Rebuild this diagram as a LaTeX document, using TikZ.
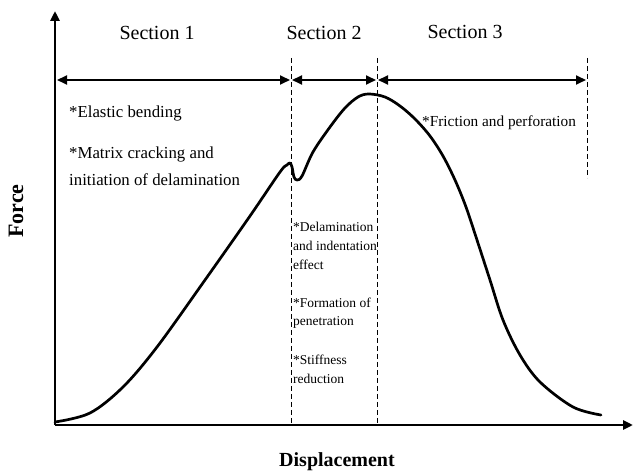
\documentclass[tikz,border=0pt]{standalone}
\usepackage{fontspec}
\setmainfont{Liberation Serif}
\usetikzlibrary{arrows.meta}
\tikzset{
  axisline/.style={line width=2.8pt, -{Triangle[length=10pt,width=9pt]}},
  secarrow/.style={line width=1.8pt, {Triangle[length=10pt,width=9pt]}-{Triangle[length=10pt,width=9pt]}},
  guide/.style={line width=1pt, dash pattern=on 5pt off 3pt},
  curveline/.style={line width=2.7pt, line join=round, line cap=round},
  sectxt/.style={font=\fontsize{20}{23}\selectfont, inner sep=0pt},
  lefttxt/.style={font=\fontsize{16.8}{20}\selectfont, anchor=west, inner sep=0pt},
  midtxt/.style={font=\fontsize{13.5}{16}\selectfont, anchor=west, inner sep=0pt},
  axtxt/.style={font=\fontsize{20}{23}\selectfont\bfseries, inner sep=0pt}
}
\begin{document}
\begin{tikzpicture}[x=1pt,y=-1pt]
\useasboundingbox (0,0) rectangle (633,476);
% axes
\coordinate (O) at (55,425);
\coordinate (Ytop) at (55,11);
\coordinate (Xend) at (633,425);
\draw[axisline] (O) -- (Ytop);
\draw[axisline] (O) -- (Xend);
% dashed guides
\coordinate (d1t) at (291,58); \coordinate (d1b) at (291,425);
\coordinate (d2t) at (377,58); \coordinate (d2b) at (377,425);
\coordinate (d3t) at (587,58); \coordinate (d3b) at (587,178);
\draw[guide] (d1t) -- (d1b);
\draw[guide] (d2t) -- (d2b);
\draw[guide] (d3t) -- (d3b);
% section arrows
\coordinate (a1l) at (57,80); \coordinate (a1r) at (290,80);
\coordinate (a2l) at (292,80); \coordinate (a2r) at (376,80);
\coordinate (a3l) at (378,80); \coordinate (a3r) at (586,80);
\draw[secarrow] (a1l) -- (a1r);
\draw[secarrow] (a2l) -- (a2r);
\draw[secarrow] (a3l) -- (a3r);
% section labels
\node[sectxt] (s1) at (157,33) {Section 1};
\node[sectxt] (s2) at (324,33) {Section 2};
\node[sectxt] (s3) at (465,32) {Section 3};
% left texts
\node[lefttxt] (t1) at (69,113) {*Elastic bending};
\node[lefttxt] (t2) at (69,154) {*Matrix cracking and};
\node[lefttxt] (t3) at (69,180) {initiation of delamination};
% right text
\node[lefttxt, font=\fontsize{15.3}{18}\selectfont] (t4) at (422,123) {*Friction and perforation};
% middle texts
\node[midtxt] (m1) at (293,227) {*Delamination};
\node[midtxt] (m2) at (293,246) {and indentation};
\node[midtxt] (m3) at (293,265) {effect};
\node[midtxt] (m4) at (293,303) {*Formation of};
\node[midtxt] (m5) at (293,322) {penetration};
\node[midtxt] (m6) at (293,360) {*Stiffness};
\node[midtxt] (m7) at (293,379) {reduction};
% axis labels
\node[axtxt] (xl) at (337,462) {Displacement};
\node[axtxt, font=\fontsize{22}{25}\selectfont\bfseries, rotate=90] (yl) at (16,211) {Force};
% curve
\draw[curveline] plot[smooth, tension=0.55] coordinates {
 (55,422) (90,413) (123,387) (157,347) (205,280) (250,216) (280,172)
 (287,165) (290,163) (292,167) (294,177) (297,180) (302,176) (313,152)
 (330,127) (345,108) (358,97) (369,94) (385,97) (400,106) (415,119)
 (430,136) (443,156) (455,180) (466,207) (477,240) (490,280) (503,320)
 (520,355) (540,382) (573,407) (601,415)};
\end{tikzpicture}
\end{document}
